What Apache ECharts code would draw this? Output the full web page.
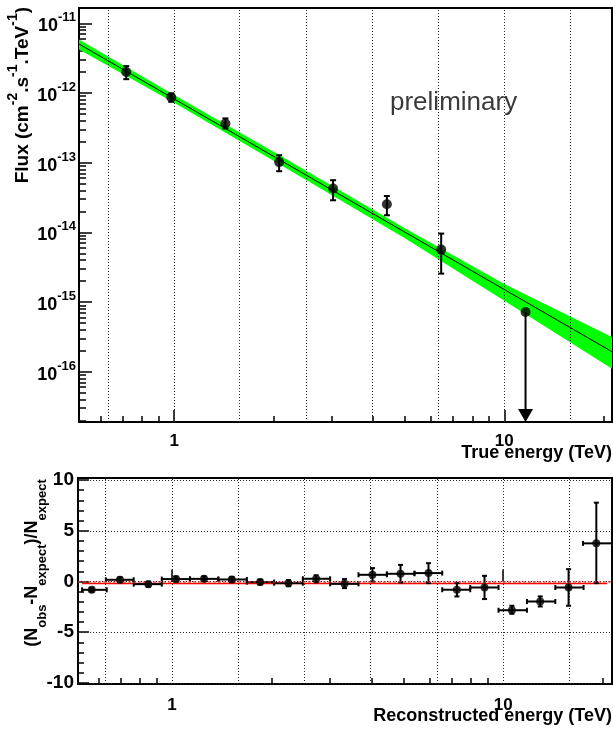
<!DOCTYPE html>
<html><head><meta charset="utf-8">
<script src="https://cdn.jsdelivr.net/npm/echarts@6/dist/echarts.min.js"></script>
<style>html,body{margin:0;padding:0;background:#fff}#c{width:613px;height:731px}</style>
</head><body><div id="c"></div>
<script>
// ---------------- data ----------------
const energyRangeTop = [0.515, 21.2];
const energyRangeBottom = [0.52, 21.3];
const fluxRange = [1.9e-17, 1.66e-11];
const residualRange = [-10.1, 10.2];

const energyTicks = [1, 10];
const fluxTicks = [1e-16, 1e-15, 1e-14, 1e-13, 1e-12, 1e-11];
const residualTicks = [-10, -5, 0, 5, 10];
const energyGrid = [0.631, 1, 1.585, 2.512, 3.981, 6.310, 10, 15.85];

// flux points
const fluxE  = [0.716, 0.98, 1.43, 2.08, 3.03, 4.41, 6.44];
const fluxV  = [2.0e-12, 8.7e-13, 3.66e-13, 1.02e-13, 4.26e-14, 2.54e-14, 5.66e-15];
const fluxHi = [2.43e-12, 9.86e-13, 4.32e-13, 1.28e-13, 5.61e-14, 3.33e-14, 9.61e-15];
const fluxLo = [1.58e-12, 7.48e-13, 3.10e-13, 7.55e-14, 2.89e-14, 1.76e-14, 2.56e-15];

// upper limit
const ulE = [11.6];
const ulV = [7.2e-16];

// fitted power law (straight line in log-log) and its error band
const fitE = [0.515, 21.2];
const fitV = [5.05e-12, 1.94e-16];
const bandE  = [0.515, 1, 2, 5, 10, 21.2];
const bandUp = [5.86e-12, 9.33e-13, 1.44e-13, 1.15e-14, 1.82e-15, 3.16e-16];
const bandLo = [4.21e-12, 7.28e-13, 1.07e-13, 8.22e-15, 1.045e-15, 1.10e-16];

// residuals
const resE     = [0.572, 0.696, 0.848, 1.028, 1.249, 1.515, 1.845, 2.246, 2.723, 3.316, 4.028, 4.895, 5.947, 7.246, 8.780, 10.62, 12.93, 15.75, 19.10];
const resBinLo = [0.535, 0.631, 0.766, 0.931, 1.133, 1.380, 1.682, 2.033, 2.482, 3.001, 3.655, 4.453, 5.395, 6.543, 7.950, 9.678, 11.79, 14.36, 17.41];
const resBinHi = [0.635, 0.766, 0.931, 1.133, 1.380, 1.682, 2.033, 2.482, 3.001, 3.655, 4.453, 5.395, 6.543, 7.950, 9.678, 11.79, 14.36, 17.48, 21.30];
const resV     = [-0.82, 0.17, -0.26, 0.24, 0.26, 0.20, -0.06, -0.16, 0.27, -0.23, 0.66, 0.76, 0.83, -0.81, -0.59, -2.83, -1.97, -0.59, 3.76];
const resYHi   = [-0.62, 0.42, -0.01, 0.49, 0.51, 0.45, 0.19, 0.14, 0.62, 0.24, 1.32, 1.64, 1.81, -0.16, 0.56, -2.39, -1.47, 1.22, 7.77];
const resYLo   = [-1.02, -0.08, -0.51, -0.01, 0.01, -0.05, -0.31, -0.46, -0.08, -0.65, 0.00, -0.10, -0.16, -1.47, -1.73, -3.18, -2.46, -2.39, -0.16];
const resFitE  = [0.535, 20.6];
const resFitV  = [-0.2, -0.2];

// ---------------- helpers ----------------
const FF = '"Liberation Sans", Arial, Helvetica, sans-serif';
function minorLog(range) {
  const out = [];
  for (let d = -18; d <= 2; d++) for (let k = 2; k <= 9; k++) {
    const v = k * Math.pow(10, d);
    if (v >= range[0] && v <= range[1]) out.push(v);
  }
  return out;
}
const resMinor = [];
for (let v = -10; v <= 10; v++) if (v % 5 !== 0) resMinor.push(v);

const dotted = { color: '#222', width: 1, type: [1, 2] };
const lblStyle = { fontFamily: FF, fontWeight: 'bold', fontSize: 17, color: '#000' };

function xAxes(grid, range, minor) {
  return [
    { type: 'log', gridIndex: grid, min: range[0], max: range[1], position: 'bottom',
      axisLine: { show: true, onZero: false, lineStyle: { color: '#000', width: 2 } },
      axisTick: { show: true, inside: true, length: 6, lineStyle: { color: '#000', width: 1.5 }, customValues: minor },
      axisLabel: Object.assign({ show: true, customValues: energyTicks, margin: grid === 0 ? 11 : 13,
        formatter: v => String(Math.round(v)) }, lblStyle),
      splitLine: { show: false } },
    { type: 'log', gridIndex: grid, min: range[0], max: range[1], position: 'bottom',
      axisLine: { show: false },
      axisTick: { show: true, inside: true, length: 12, lineStyle: { color: '#000', width: 1.5 }, customValues: energyTicks },
      axisLabel: { show: false }, splitLine: { show: false } }
  ];
}

const chart = echarts.init(document.getElementById('c'), null, { renderer: 'canvas' });

const option = {
  animation: false,
  backgroundColor: '#fff',
  grid: [
    { left: 79, right: 1, top: 8, height: 414, show: true, borderColor: '#000', borderWidth: 2, backgroundColor: 'transparent' },
    { left: 78, right: 1, top: 478, height: 206, show: true, borderColor: '#000', borderWidth: 2, backgroundColor: 'transparent' }
  ],
  xAxis: [].concat(
    xAxes(0, energyRangeTop, minorLog(energyRangeTop)),
    xAxes(1, energyRangeBottom, minorLog(energyRangeBottom))
  ),
  yAxis: [
    { type: 'log', gridIndex: 0, min: fluxRange[0], max: fluxRange[1], position: 'left',
      axisLine: { show: true, onZero: false, lineStyle: { color: '#000', width: 2 } },
      axisTick: { show: true, inside: true, length: 7, lineStyle: { color: '#000', width: 1.5 }, customValues: minorLog(fluxRange) },
      axisLabel: { show: true, customValues: fluxTicks, margin: 3,
        formatter: v => '{b|10}{s|' + Math.round(Math.log10(v)) + '}',
        rich: {
          b: { fontFamily: FF, fontWeight: 'bold', fontSize: 18, color: '#000', lineHeight: 24, verticalAlign: 'bottom' },
          s: { fontFamily: FF, fontWeight: 'bold', fontSize: 13, color: '#000', lineHeight: 14, verticalAlign: 'top' }
        } },
      splitLine: { show: false } },
    { type: 'log', gridIndex: 0, min: fluxRange[0], max: fluxRange[1], position: 'left',
      axisLine: { show: false },
      axisTick: { show: true, inside: true, length: 13, lineStyle: { color: '#000', width: 1.5 }, customValues: fluxTicks },
      axisLabel: { show: false }, splitLine: { show: false } },
    { type: 'value', gridIndex: 1, min: residualRange[0], max: residualRange[1], position: 'left',
      axisLine: { show: true, onZero: false, lineStyle: { color: '#000', width: 2 } },
      axisTick: { show: true, inside: true, length: 6, lineStyle: { color: '#000', width: 1.5 }, customValues: resMinor },
      axisLabel: Object.assign({ show: true, customValues: residualTicks, margin: 4, formatter: v => String(v) }, lblStyle, { fontSize: 19 }),
      splitLine: { show: false } },
    { type: 'value', gridIndex: 1, min: residualRange[0], max: residualRange[1], position: 'left',
      axisLine: { show: false },
      axisTick: { show: true, inside: true, length: 11, lineStyle: { color: '#000', width: 1.5 }, customValues: residualTicks },
      axisLabel: { show: false }, splitLine: { show: false } }
  ],
  series: [
    // top grid lines
    { type: 'line', xAxisIndex: 0, yAxisIndex: 0, z: 1, data: [[1, 1e-13]], symbol: 'none', lineStyle: { opacity: 0 }, silent: true,
      markLine: { silent: true, symbol: ['none', 'none'], label: { show: false }, lineStyle: dotted,
        data: energyGrid.map(v => ({ xAxis: v })).concat(fluxTicks.map(v => ({ yAxis: v }))) } },
    // band
    { type: 'custom', xAxisIndex: 0, yAxisIndex: 0, z: 2, clip: true,
      data: [[bandE[0], bandUp[0], bandLo[0]]], encode: { x: 0, y: [1, 2] },
      renderItem: (params, api) => {
        const pts = [];
        for (let i = 0; i < bandE.length; i++) pts.push(api.coord([bandE[i], bandUp[i]]));
        for (let i = bandE.length - 1; i >= 0; i--) pts.push(api.coord([bandE[i], bandLo[i]]));
        return { type: 'polygon', shape: { points: pts }, style: { fill: '#00ff00', stroke: null } };
      } },
    // fit line
    { type: 'line', xAxisIndex: 0, yAxisIndex: 0, z: 3, symbol: 'none', silent: true,
      data: fitE.map((e, i) => [e, fitV[i]]), lineStyle: { color: '#000', width: 1 } },
    // flux error bars
    { type: 'custom', xAxisIndex: 0, yAxisIndex: 0, z: 4,
      data: fluxE.map((e, i) => [e, fluxV[i], fluxHi[i], fluxLo[i]]), encode: { x: 0, y: [1, 2, 3] },
      renderItem: (params, api) => {
        const t = api.coord([api.value(0), api.value(2)]);
        const b = api.coord([api.value(0), api.value(3)]);
        const s = { stroke: '#000', lineWidth: 2 };
        return { type: 'group', children: [
          { type: 'line', shape: { x1: t[0], y1: t[1], x2: b[0], y2: b[1] }, style: s },
          { type: 'line', shape: { x1: t[0] - 3, y1: t[1], x2: t[0] + 3, y2: t[1] }, style: s },
          { type: 'line', shape: { x1: b[0] - 3, y1: b[1], x2: b[0] + 3, y2: b[1] }, style: s }
        ] };
      } },
    // upper limit arrow
    { type: 'custom', xAxisIndex: 0, yAxisIndex: 0, z: 4, clip: false,
      data: ulE.map((e, i) => [e, ulV[i]]), encode: { x: 0, y: 1 },
      renderItem: (params, api) => {
        const p = api.coord([api.value(0), api.value(1)]);
        const b = api.coord([api.value(0), fluxRange[0]]);
        return { type: 'group', children: [
          { type: 'line', shape: { x1: p[0], y1: p[1], x2: b[0], y2: b[1] - 8 }, style: { stroke: '#000', lineWidth: 2 } },
          { type: 'polygon', shape: { points: [[b[0] - 7.5, b[1] - 13], [b[0] + 7.5, b[1] - 13], [b[0], b[1]]] }, style: { fill: '#000' } }
        ] };
      } },
    // flux points
    { type: 'scatter', xAxisIndex: 0, yAxisIndex: 0, z: 5, symbol: 'circle', symbolSize: 10, itemStyle: { color: '#000' },
      data: fluxE.map((e, i) => [e, fluxV[i]]).concat(ulE.map((e, i) => [e, ulV[i]])) },

    // bottom grid lines
    { type: 'line', xAxisIndex: 2, yAxisIndex: 2, z: 1, data: [[1, 0]], symbol: 'none', lineStyle: { opacity: 0 }, silent: true,
      markLine: { silent: true, symbol: ['none', 'none'], label: { show: false }, lineStyle: dotted,
        data: energyGrid.map(v => ({ xAxis: v })).concat(residualTicks.map(v => ({ yAxis: v }))) } },
    // zero reference (red dashed)
    { type: 'line', xAxisIndex: 2, yAxisIndex: 2, z: 2, data: [[1, 0]], symbol: 'none', lineStyle: { opacity: 0 }, silent: true,
      markLine: { silent: true, symbol: ['none', 'none'], label: { show: false },
        lineStyle: { color: '#e03030', width: 1.5, type: [3, 2], opacity: 0.7 }, data: [{ yAxis: 0 }] } },
    // solid red line
    { type: 'line', xAxisIndex: 2, yAxisIndex: 2, z: 3, symbol: 'none', silent: true,
      data: resFitE.map((e, i) => [e, resFitV[i]]), lineStyle: { color: '#ff0000', width: 1.5 } },
    // residual error bars
    { type: 'custom', xAxisIndex: 2, yAxisIndex: 2, z: 4, clip: true,
      data: resE.map((e, i) => [e, resV[i], resBinLo[i], resBinHi[i], resYHi[i], resYLo[i]]),
      encode: { x: [0, 2, 3], y: [1, 4, 5] },
      renderItem: (params, api) => {
        const x = api.value(0), y = api.value(1);
        const l = api.coord([api.value(2), y]);
        const r = api.coord([api.value(3), y]);
        const t = api.coord([x, api.value(4)]);
        const b = api.coord([x, api.value(5)]);
        const s = { stroke: '#000', lineWidth: 2 };
        return { type: 'group', children: [
          { type: 'line', shape: { x1: l[0], y1: l[1], x2: r[0], y2: r[1] }, style: s },
          { type: 'line', shape: { x1: l[0], y1: l[1] - 2.5, x2: l[0], y2: l[1] + 2.5 }, style: s },
          { type: 'line', shape: { x1: r[0], y1: r[1] - 2.5, x2: r[0], y2: r[1] + 2.5 }, style: s },
          { type: 'line', shape: { x1: t[0], y1: t[1], x2: b[0], y2: b[1] }, style: s },
          { type: 'line', shape: { x1: t[0] - 2.5, y1: t[1], x2: t[0] + 2.5, y2: t[1] }, style: s },
          { type: 'line', shape: { x1: b[0] - 2.5, y1: b[1], x2: b[0] + 2.5, y2: b[1] }, style: s }
        ] };
      } },
    { type: 'scatter', xAxisIndex: 2, yAxisIndex: 2, z: 5, symbol: 'circle', symbolSize: 8, itemStyle: { color: '#000' },
      data: resE.map((e, i) => [e, resV[i]]) }
  ],
  graphic: [
    { type: 'text', x: 390, y: 103, z: 10, silent: true,
      style: { text: 'preliminary', font: '26px ' + FF, fill: '#3a3a3a', align: 'left', verticalAlign: 'middle' } },
    { type: 'text', x: 612, y: 453, z: 10, silent: true,
      style: { text: 'True energy (TeV)', font: 'bold 18px ' + FF, fill: '#000', align: 'right', verticalAlign: 'middle' } },
    { type: 'text', x: 612, y: 716, z: 10, silent: true,
      style: { text: 'Reconstructed energy (TeV)', font: 'bold 18px ' + FF, fill: '#000', align: 'right', verticalAlign: 'middle' } },
    { type: 'text', x: 19, y: 7, rotation: Math.PI / 2, z: 10, silent: true,
      style: { text: '{m|Flux (cm}{s|-2}{m|.s}{s|-1}{m|.TeV}{s|-1}{m|)}', align: 'right', verticalAlign: 'middle',
        rich: {
          m: { fontFamily: FF, fontWeight: 'bold', fontSize: 19, fill: '#000', lineHeight: 26, verticalAlign: 'bottom' },
          s: { fontFamily: FF, fontWeight: 'bold', fontSize: 14, fill: '#000', lineHeight: 14, verticalAlign: 'top' }
        } } },
    { type: 'text', x: 36, y: 563, rotation: Math.PI / 2, z: 10, silent: true,
      style: { text: '{m|(N}{u|obs}{m|-N}{u|expect}{m|)/N}{u|expect}', align: 'center', verticalAlign: 'middle',
        rich: {
          m: { fontFamily: FF, fontWeight: 'bold', fontSize: 18, fill: '#000', lineHeight: 26, verticalAlign: 'top' },
          u: { fontFamily: FF, fontWeight: 'bold', fontSize: 13, fill: '#000', lineHeight: 14, verticalAlign: 'bottom' }
        } } }
  ]
};
chart.setOption(option);
</script>
</body></html>
